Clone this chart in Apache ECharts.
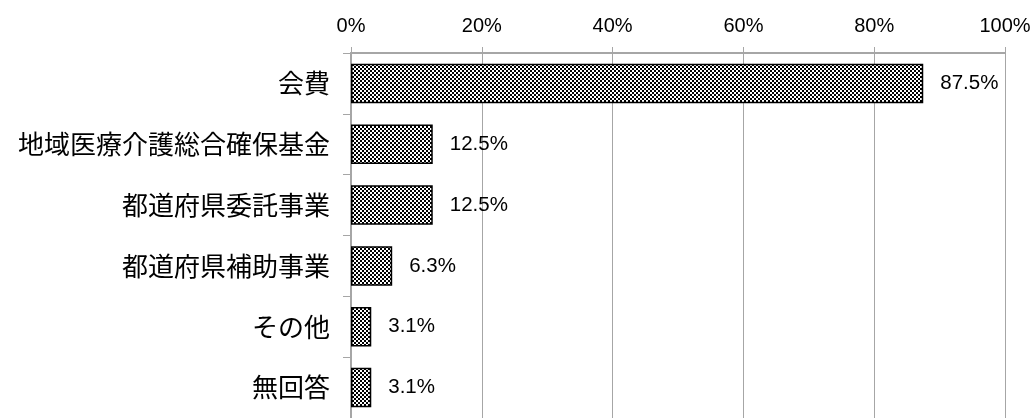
<!DOCTYPE html>
<html>
<head>
<meta charset="utf-8">
<script src="https://cdn.jsdelivr.net/npm/echarts@6/dist/echarts.min.js"></script>
<style>
html,body{margin:0;padding:0;background:#fff;}
#chart{width:1035px;height:418px;}
</style>
</head>
<body>
<div id="chart"></div>
<script>
var categories = ['会費', '地域医療介護総合確保基金', '都道府県委託事業', '都道府県補助事業', 'その他', '無回答'];
var values = [87.5, 12.5, 12.5, 6.3, 3.1, 3.1];
var xTicks = [0, 20, 40, 60, 80, 100];

function makePattern() {
  var c = document.createElement('canvas');
  c.width = 4; c.height = 4;
  var g = c.getContext('2d');
  g.fillStyle = '#ffffff';
  g.fillRect(0, 0, 4, 4);
  g.fillStyle = '#000000';
  g.fillRect(0, 0, 2, 2);
  g.fillRect(2, 2, 2, 2);
  return c;
}

var chart = echarts.init(document.getElementById('chart'), null, {renderer: 'canvas'});
var gridLineColor = '#a6a6a6';
var numFont = '"Liberation Sans Narrow", "Liberation Sans", Arial, sans-serif';
var option = {
  animation: false,
  backgroundColor: '#ffffff',
  grid: {left: 351, right: 30, top: 53, height: 368, containLabel: false},
  xAxis: [{
    type: 'value',
    position: 'top',
    min: xTicks[0],
    max: xTicks[xTicks.length - 1],
    interval: 20,
    axisLine: {show: true, lineStyle: {color: gridLineColor, width: 2}},
    axisTick: {show: true, length: 6, lineStyle: {color: gridLineColor, width: 1}},
    splitLine: {show: true, lineStyle: {color: gridLineColor, width: 1}},
    axisLabel: {
      formatter: function (v) { return v + '%'; },
      fontFamily: numFont,
      fontSize: 20,
      color: '#000',
      margin: 17
    }
  }, {
    type: 'value',
    position: 'top',
    min: xTicks[0],
    max: xTicks[xTicks.length - 1],
    interval: 20,
    axisLine: {show: false},
    axisTick: {show: true, inside: true, length: 6, lineStyle: {color: gridLineColor, width: 1}},
    splitLine: {show: false},
    axisLabel: {show: false}
  }],
  yAxis: {
    type: 'category',
    inverse: true,
    data: categories,
    axisLine: {show: true, lineStyle: {color: gridLineColor, width: 2}},
    axisTick: {show: true, length: 8, lineStyle: {color: gridLineColor, width: 1}},
    axisLabel: {
      fontFamily: '"Noto Sans CJK JP", sans-serif',
      fontSize: 26,
      color: '#000',
      margin: 21
    }
  },
  series: [{
    type: 'bar',
    data: values,
    barCategoryGap: '35%',
    itemStyle: {
      color: {image: makePattern(), repeat: 'repeat'},
      borderColor: '#000',
      borderWidth: 1.5
    },
    label: {
      show: true,
      position: 'right',
      distance: 17,
      formatter: function (p) { return p.value.toFixed(1) + '%'; },
      fontFamily: numFont,
      fontSize: 20.5,
      color: '#000'
    }
  }]
};
chart.setOption(option);
</script>
</body>
</html>
